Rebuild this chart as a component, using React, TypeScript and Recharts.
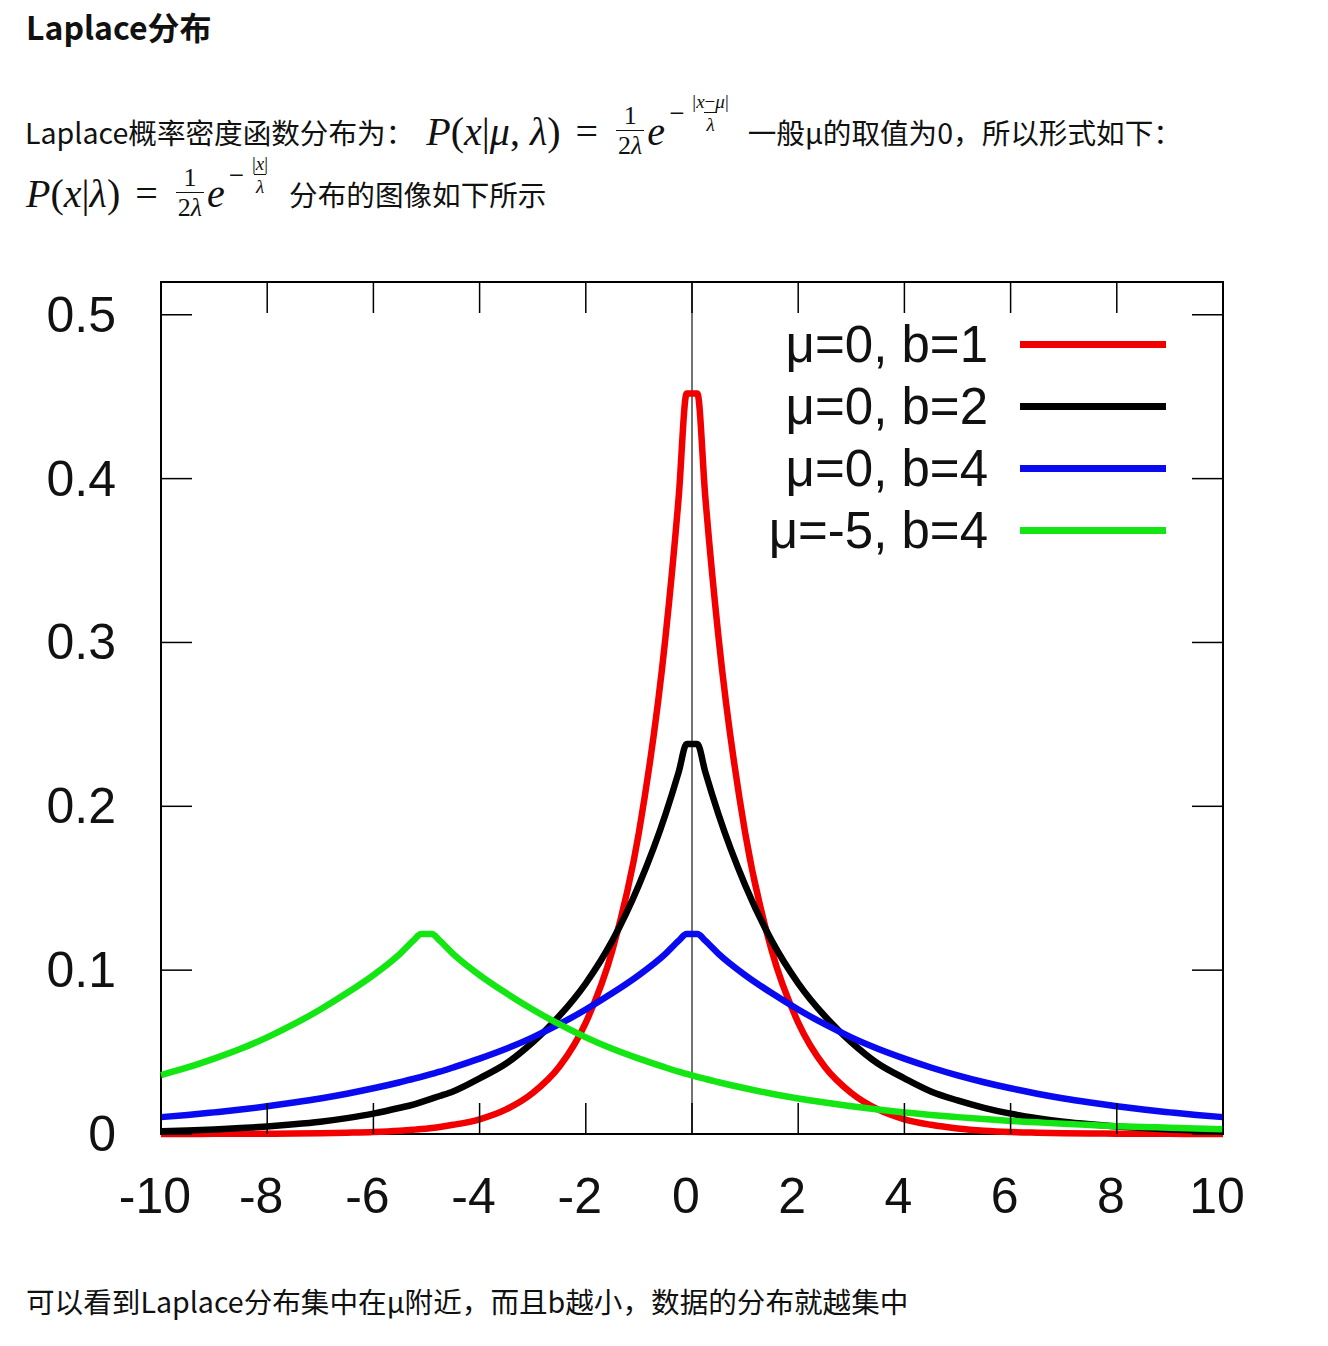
import React from "react";
import { LineChart, Line, XAxis, YAxis, ReferenceLine, ReferenceArea, Legend } from "recharts";

// x positions the curves were read at (denser around the two peaks)
const X_VALUES = [
    -10, -9.5, -9, -8.5, -8, -7.5, -7, -6.5, -6, -5.5, -5.25, -5.1, -4.9, -4.75, -4.5, -4, -3.5, -3, -2.5, -2,
    -1.5, -1, -0.5, -0.25, -0.1, 0.1, 0.25, 0.5, 1, 1.5, 2, 2.5, 3, 3.5, 4, 4.5, 5, 5.5, 6, 6.5, 7, 7.5, 8,
    8.5, 9, 9.5, 10,
];

// μ=0, b=1
const RED_B1 = [
    0, 0, 0.0001, 0.0001, 0.0002, 0.0003, 0.0005, 0.0008, 0.0012, 0.002, 0.0026, 0.003, 0.0037, 0.0043, 0.0056, 0.009,
    0.015, 0.025, 0.041, 0.068, 0.112, 0.184, 0.303, 0.389, 0.452, 0.452, 0.389, 0.303, 0.184, 0.112, 0.068, 0.041,
    0.025, 0.015, 0.009, 0.0056, 0.0034, 0.002, 0.0012, 0.0008, 0.0005, 0.0003, 0.0002, 0.0001, 0.0001, 0, 0,
];

// μ=0, b=2
const BLACK_B2 = [
    0.0017, 0.0022, 0.0028, 0.0036, 0.0046, 0.0059, 0.0075, 0.0097, 0.0124, 0.016, 0.018, 0.0195, 0.0216, 0.0232,
    0.026, 0.034, 0.043, 0.056, 0.072, 0.092, 0.118, 0.152, 0.195, 0.221, 0.238, 0.238, 0.221, 0.195, 0.152, 0.118,
    0.092, 0.072, 0.056, 0.043, 0.034, 0.026, 0.0205, 0.016, 0.0124, 0.0097, 0.0075, 0.0059, 0.0046, 0.0036, 0.0028,
    0.0022, 0.0017,
];

// μ=0, b=4
const BLUE_B4 = [
    0.0103, 0.0116, 0.0132, 0.0149, 0.0169, 0.0192, 0.0217, 0.0246, 0.0279, 0.0316, 0.0336, 0.0349, 0.0367, 0.038,
    0.0406, 0.046, 0.052, 0.059, 0.067, 0.076, 0.086, 0.097, 0.11, 0.118, 0.122, 0.122, 0.118, 0.11, 0.097, 0.086,
    0.076, 0.067, 0.059, 0.052, 0.046, 0.0406, 0.0358, 0.0316, 0.0279, 0.0246, 0.0217, 0.0192, 0.0169, 0.0149,
    0.0132, 0.0116, 0.0103,
];

// μ=-5, b=4
const GREEN_M5_B4 = [
    0.036, 0.0406, 0.046, 0.052, 0.059, 0.067, 0.076, 0.086, 0.097, 0.11, 0.118, 0.122, 0.122, 0.118, 0.11, 0.097,
    0.086, 0.076, 0.067, 0.059, 0.052, 0.046, 0.0406, 0.038, 0.0367, 0.0349, 0.0336, 0.0316, 0.0279, 0.0246, 0.0217,
    0.0192, 0.0169, 0.0149, 0.0132, 0.0116, 0.0103, 0.0091, 0.008, 0.0071, 0.0062, 0.0055, 0.0048, 0.0043, 0.0038,
    0.0033, 0.0029,
];

const SERIES = [
    { key: "b1", name: "μ=0, b=1", color: "#f20000", values: RED_B1 },
    { key: "b2", name: "μ=0, b=2", color: "#000000", values: BLACK_B2 },
    { key: "b4", name: "μ=0, b=4", color: "#0a0af0", values: BLUE_B4 },
    { key: "m5", name: "μ=-5, b=4", color: "#14e614", values: GREEN_M5_B4 },
];

const X_TICKS = [-10, -8, -6, -4, -2, 0, 2, 4, 6, 8, 10];
const Y_TICKS = [0, 0.1, 0.2, 0.3, 0.4, 0.5];

const CHART_W = 1328;
const CHART_H = 1250;
const PLOT_LEFT = 161;
const PLOT_RIGHT = 1223;
const PLOT_TOP = 282;
const PLOT_BOTTOM = 1134;
const PLOT_W = PLOT_RIGHT - PLOT_LEFT;
const PLOT_H = PLOT_BOTTOM - PLOT_TOP;
const Y_AXIS_W = 60;
const X_AXIS_H = 30;
const TICK_LEN = 31;

const PLOT_FONT = "'Liberation Sans', Arial, sans-serif";
const TEXT_FONT = "'Noto Sans CJK SC', 'Noto Sans', sans-serif";
const MATH_FONT = "'Liberation Serif', 'DejaVu Serif', serif";

const rows = X_VALUES.map((x, i) => {
    const row: Record<string, number> = { x };
    SERIES.forEach((s) => { row[s.key] = s.values[i]; });
    return row;
});

function XTick(props: any) {
    const { x, y, payload } = props;
    return (
        <g>
            <line x1={x} y1={y} x2={x} y2={y - TICK_LEN} stroke="#000" strokeWidth={1.5} />
            <line x1={x} y1={y - PLOT_H} x2={x} y2={y - PLOT_H + TICK_LEN} stroke="#000" strokeWidth={1.5} />
            <text x={x - 6} y={y + 62} textAnchor="middle" dominantBaseline="central"
                fontSize={50} fontFamily={PLOT_FONT} fill="#111">
                {String(payload.value)}
            </text>
        </g>
    );
}

function YTick(props: any) {
    const { x, y, payload } = props;
    const v = payload.value as number;
    return (
        <g>
            <line x1={x} y1={y} x2={x + TICK_LEN} y2={y} stroke="#000" strokeWidth={1.5} />
            <line x1={x + PLOT_W} y1={y} x2={x + PLOT_W - TICK_LEN} y2={y} stroke="#000" strokeWidth={1.5} />
            <text x={x - 45} y={y} textAnchor="end" dominantBaseline="central"
                fontSize={50} fontFamily={PLOT_FONT} fill="#111">
                {v === 0 ? "0" : v.toFixed(1)}
            </text>
        </g>
    );
}

function LegendBox(props: any) {
    const items = [...(props.payload || [])].sort(
        (a: any, b: any) => SERIES.findIndex((s) => s.name === a.value) - SERIES.findIndex((s) => s.name === b.value)
    );
    return (
        <div>
            {items.map((it: any) => (
                <div key={it.value} style={{ display: "flex", alignItems: "center", height: 62 }}>
                    <div style={{ width: 288, textAlign: "right", fontFamily: PLOT_FONT, fontSize: 51, color: "#111", whiteSpace: "nowrap" }}>
                        {it.value}
                    </div>
                    <div style={{ marginLeft: 32, width: 146, height: 7, background: it.color }} />
                </div>
            ))}
        </div>
    );
}

function Frac({ num, den, size }: { num: React.ReactNode; den: React.ReactNode; size: number }) {
    return (
        <span style={{ display: "inline-flex", flexDirection: "column", alignItems: "center", fontSize: size, lineHeight: 1, margin: "0 3px" }}>
            <span style={{ padding: "0 2px 1px" }}>{num}</span>
            <span style={{ borderTop: "1px solid #111", padding: "2px 2px 0" }}>{den}</span>
        </span>
    );
}

const I = ({ children }: { children: React.ReactNode }) => <span style={{ fontStyle: "italic" }}>{children}</span>;

function Formula({ full }: { full: boolean }) {
    return (
        <span style={{ display: "inline-flex", alignItems: "center", fontFamily: MATH_FONT, fontSize: 40, color: "#111" }}>
            <I>P</I>(<I>x</I>|{full ? <><I>μ</I>,&nbsp;<I>λ</I></> : <I>λ</I>})
            <span style={{ margin: "0 15px" }}>=</span>
            <Frac size={26} num="1" den={<>2<I>λ</I></>} />
            <I>e</I>
            <span style={{ display: "inline-flex", alignItems: "center", position: "relative", top: -18, fontSize: 27 }}>
                <span style={{ margin: "0 3px 0 4px" }}>−</span>
                <Frac size={19} num={full ? <>|<I>x</I>−<I>μ</I>|</> : <>|<I>x</I>|</>} den={<I>λ</I>} />
            </span>
        </span>
    );
}

export default function App() {
    return (
        <div style={{ position: "absolute", left: 0, top: 0, width: 1328, height: 1346, background: "#fff", fontFamily: TEXT_FONT, color: "#111" }}>
            <div style={{ position: "absolute", left: 26, top: 6, fontSize: 32, fontWeight: 700, lineHeight: "40px" }}>
                Laplace分布
            </div>

            <div style={{ position: "absolute", left: 25, top: 101, height: 60, display: "flex", alignItems: "center", fontSize: 28.6, whiteSpace: "nowrap" }}>
                <span>Laplace概率密度函数分布为：</span>
                <span style={{ marginLeft: 12 }}><Formula full={true} /></span>
                <span style={{ marginLeft: 14 }}>一般μ的取值为0，所以形式如下：</span>
            </div>

            <div style={{ position: "absolute", left: 26, top: 163, height: 60, display: "flex", alignItems: "center", fontSize: 28.6, whiteSpace: "nowrap" }}>
                <Formula full={false} />
                <span style={{ marginLeft: 16 }}>分布的图像如下所示</span>
            </div>

            <div style={{ position: "absolute", left: 0, top: 0 }}>
                <LineChart
                    width={CHART_W}
                    height={CHART_H}
                    data={rows}
                    margin={{
                        top: PLOT_TOP,
                        left: PLOT_LEFT - Y_AXIS_W,
                        right: CHART_W - PLOT_RIGHT,
                        bottom: CHART_H - PLOT_BOTTOM - X_AXIS_H,
                    }}
                >
                    <XAxis dataKey="x" type="number" domain={[-10, 10]} ticks={X_TICKS} interval={0}
                        height={X_AXIS_H} axisLine={false} tickLine={false} tickSize={0} tickMargin={0} tick={<XTick />} />
                    <YAxis type="number" domain={[0, 0.52]} ticks={Y_TICKS} interval={0}
                        width={Y_AXIS_W} axisLine={false} tickLine={false} tickSize={0} tickMargin={0} tick={<YTick />} />
                    <ReferenceArea x1={-10} x2={10} y1={0} y2={0.52} fill="none" fillOpacity={0} stroke="#000" strokeWidth={2} />
                    <ReferenceLine x={0} stroke="#444" strokeWidth={1.5} />
                    {SERIES.map((s) => (
                        <Line key={s.key} dataKey={s.key} name={s.name} type="monotone" stroke={s.color}
                            strokeWidth={6.5} dot={false} activeDot={false} isAnimationActive={false} />
                    ))}
                    <Legend layout="vertical" align="center" verticalAlign="middle" content={<LegendBox />}
                        wrapperStyle={{ position: "absolute", left: 700, top: 313, width: 480, height: 248 }} />
                </LineChart>
            </div>

            <div style={{ position: "absolute", left: 26, top: 1280, height: 40, display: "flex", alignItems: "center", fontSize: 28.6, whiteSpace: "nowrap" }}>
                可以看到Laplace分布集中在μ附近，而且b越小，数据的分布就越集中
            </div>
        </div>
    );
}
